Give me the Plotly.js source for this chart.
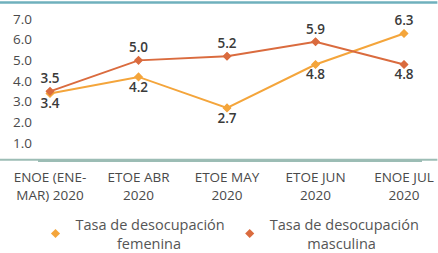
<!DOCTYPE html>
<html>
<head>
<meta charset="utf-8">
<script src="https://cdn.plot.ly/plotly-3.0.1.min.js"></script>
<style>
html,body{margin:0;padding:0;background:#fff;}
#chart{width:438px;height:253px;}
</style>
</head>
<body>
<div id="chart"></div>
<script>
const categories = ["ENOE (ENE-<br>MAR) 2020", "ETOE ABR<br>2020", "ETOE MAY<br>2020", "ETOE JUN<br>2020", "ENOE JUL<br>2020"];
const femenina = [3.4, 4.2, 2.7, 4.8, 6.3];
const masculina = [3.5, 5.0, 5.2, 5.9, 4.8];
const femeninaPos = ["bottom center", "bottom center", "bottom center", "bottom center", "top center"];
const masculinaPos = ["top center", "top center", "top center", "top center", "bottom center"];
const yTicks = [1, 2, 3, 4, 5, 6, 7];
const seriesNames = ["Tasa de desocupación<br>\u00a0\u00a0\u00a0\u00a0\u00a0\u00a0\u00a0\u00a0\u00a0\u00a0\u00a0femenina",
                     "Tasa de desocupación<br>\u00a0\u00a0\u00a0\u00a0\u00a0\u00a0\u00a0\u00a0\u00a0\u00a0masculina"];
const colors = ["#F4A53B", "#DA6B3E"];

const labelFont = {family: "Open Sans, sans-serif", size: 13.5, color: "#3a3a3a", weight: 600};

function series(y, pos, color, name) {
  return [
    {
      x: categories, y: y, name: name, showlegend: false,
      type: "scatter", mode: "lines+markers+text",
      line: {color: color, width: 2},
      marker: {color: color, size: 6, symbol: "diamond"},
      text: y.map(v => v.toFixed(1)), textposition: pos,
      textfont: labelFont, cliponaxis: false
    },
    {
      x: categories, y: y, name: name, showlegend: true,
      type: "scatter", mode: "markers",
      marker: {color: color, size: 7, symbol: "diamond"}, hoverinfo: "skip"
    }
  ];
}

const traces = [
  ...series(femenina, femeninaPos, colors[0], seriesNames[0]),
  ...series(masculina, masculinaPos, colors[1], seriesNames[1])
];

const layout = {
  width: 438, height: 253,
  margin: {l: 38, r: 16, t: 12, b: 93, autoexpand: false},
  paper_bgcolor: "#fff", plot_bgcolor: "#fff",
  font: {family: "Open Sans, sans-serif", size: 14, color: "#555"},
  showlegend: true,
  legend: {
    orientation: "h", x: 0.5, xanchor: "center",
    y: -0.325, yanchor: "top", bgcolor: "rgba(0,0,0,0)",
    font: {size: 14.5, color: "#555"}, itemsizing: "trace", tracegroupgap: 0
  },
  xaxis: {
    type: "category", range: [-0.1356, 4.203],
    showgrid: false, zeroline: false, showline: true, linecolor: "#9cbdb5", linewidth: 2,
    ticks: "", ticklabelstandoff: 4,
    tickfont: {size: 13.5, color: "#4a4a4a"}, fixedrange: true
  },
  yaxis: {
    range: [0.18, 7.34], tickvals: yTicks, ticktext: yTicks.map(v => v.toFixed(1)),
    showgrid: false, zeroline: false, showline: false, ticks: "", ticklabelstandoff: 5,
    tickfont: {size: 13.5, color: "#4a4a4a"}, fixedrange: true
  },
  shapes: [
    {type: "line", xref: "paper", yref: "paper", layer: "above", x0: -0.1, x1: 1.04, y0: 0.002, y1: 0.002,
     line: {color: "#9cbdb5", width: 2}},
    {type: "line", xref: "paper", yref: "paper", layer: "above", x0: -0.1, x1: 1.04, y0: 1.065, y1: 1.065,
     line: {color: "#6fb0bd", width: 2.5}}
  ]
};

Plotly.newPlot("chart", traces, layout, {displayModeBar: false, staticPlot: true});
</script>
</body>
</html>
